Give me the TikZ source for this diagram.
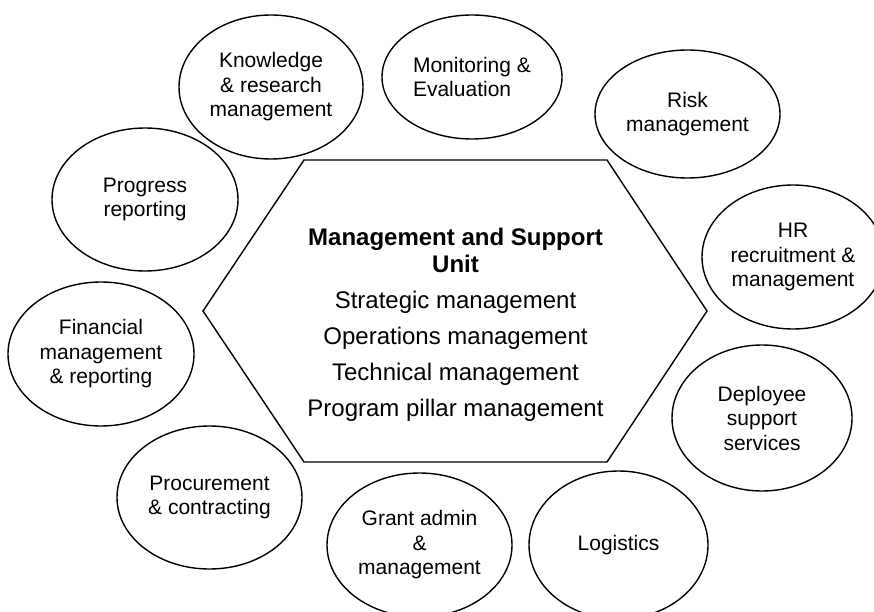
\documentclass[tikz,border=0pt]{standalone}
\usepackage{fontspec}
\setmainfont{Liberation Sans}
\usetikzlibrary{shapes.geometric}

\begin{document}
\begin{tikzpicture}[x=1pt,y=-1pt,line width=1.4pt,
bubble/.style={draw,ellipse,inner sep=0pt,align=center,font=\fontsize{21}{24.5}\selectfont}]
\useasboundingbox (0,0) rectangle (874,612);
\clip (0,0) rectangle (874,612);
\coordinate (h1) at (304,160);
\coordinate (h2) at (607,160);
\coordinate (h3) at (707,311);
\coordinate (h4) at (607,462);
\coordinate (h5) at (304,462);
\coordinate (h6) at (203,311);
\draw (h1)--(h2)--(h3)--(h4)--(h5)--(h6)--cycle;
\node[align=center,font=\fontsize{24}{27}\selectfont] (msu) at (455.5,325) {\textbf{Management and Support}\\\textbf{Unit}\\[9pt]Strategic management\\[9pt]Operations management\\[9pt]Technical management\\[9pt]Program pillar management};
\node[bubble,minimum width=184pt,minimum height=144pt] (know) at (271,87) {Knowledge\\\& research\\management};
\node[bubble,align=left,minimum width=180pt,minimum height=124pt] (mon) at (472,77) {Monitoring \&\\Evaluation};
\node[bubble,minimum width=185pt,minimum height=128pt] (risk) at (687.5,114) {Risk\\management};
\node[bubble,minimum width=182pt,minimum height=144pt] (hr) at (793,257) {HR\\recruitment \&\\management};
\node[bubble,minimum width=180pt,minimum height=146pt] (dep) at (762,418) {Deployee\\support\\services};
\node[bubble,minimum width=179pt,minimum height=148pt] (log) at (618.5,545) {Logistics};
\node[bubble,minimum width=185pt,minimum height=144pt] (grant) at (419.5,545) {Grant admin\\\&\\management};
\node[bubble,minimum width=185pt,minimum height=143pt] (proc) at (209.5,497.5) {Procurement\\\& contracting};
\node[bubble,minimum width=186pt,minimum height=144pt] (fin) at (101,354) {Financial\\management\\\& reporting};
\node[bubble,minimum width=186pt,minimum height=143pt] (prog) at (145,199.5) {Progress\\reporting};
\end{tikzpicture}
\end{document}
